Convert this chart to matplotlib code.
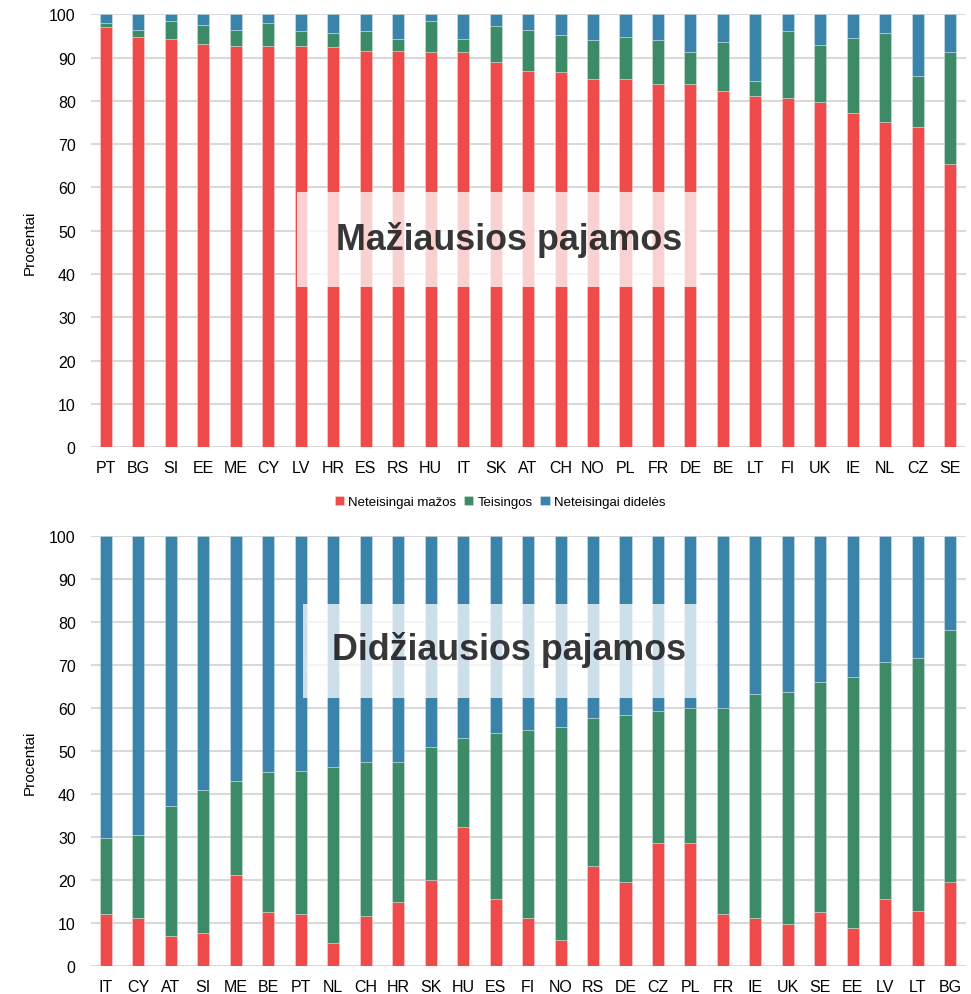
import matplotlib
matplotlib.use("Agg")
import matplotlib.pyplot as plt
import numpy as np

plt.rcParams['font.family'] = ['Liberation Sans', 'DejaVu Sans']

# Mažiausios pajamos (viršutinis grafikas)
salys_maz = ["PT", "BG", "SI", "EE", "ME", "CY", "LV", "HR", "ES", "RS", "HU", "IT", "SK", "AT",
             "CH", "NO", "PL", "FR", "DE", "BE", "LT", "FI", "UK", "IE", "NL", "CZ", "SE"]
maz_mazos = [97.1, 94.8, 94.4, 93.2, 92.7, 92.7, 92.7, 92.4, 91.6, 91.6, 91.2, 91.2, 88.9, 87.0,
             86.6, 85.0, 85.0, 83.8, 83.8, 82.2, 81.1, 80.6, 79.8, 77.1, 75.1, 74.0, 65.4]
maz_teisingos = [0.8, 1.5, 4.0, 4.4, 3.6, 5.2, 3.4, 3.2, 4.5, 2.8, 7.2, 3.2, 8.3, 9.3,
                 8.6, 9.0, 9.8, 10.2, 7.4, 11.4, 3.4, 15.5, 13.0, 17.4, 20.5, 11.7, 25.8]

# Didžiausios pajamos (apatinis grafikas)
salys_did = ["IT", "CY", "AT", "SI", "ME", "BE", "PT", "NL", "CH", "HR", "SK", "HU", "ES", "FI",
             "NO", "RS", "DE", "CZ", "PL", "FR", "IE", "UK", "SE", "EE", "LV", "LT", "BG"]
did_mazos = [12.0, 11.2, 6.9, 7.7, 21.1, 12.5, 12.0, 5.3, 11.6, 14.8, 19.9, 32.2, 15.6, 11.2,
             6.0, 23.2, 19.5, 28.7, 28.7, 12.0, 11.2, 9.7, 12.5, 8.8, 15.6, 12.9, 19.5]
did_teisingos = [17.8, 19.3, 30.4, 33.2, 21.8, 32.5, 33.3, 40.9, 35.7, 32.5, 30.9, 20.9, 38.5, 43.6,
                 49.6, 34.4, 38.8, 30.5, 31.2, 47.9, 51.9, 53.9, 53.4, 58.3, 55.0, 58.6, 58.7]

serijos = ["Neteisingai mažos", "Teisingos", "Neteisingai didelės"]
spalvos = ["#ef4b4b", "#3d8a66", "#3a84ab"]


def piesti(ax, salys, mazos, teisingos, antraste, box, teksto_y):
    x = np.arange(len(salys))
    mazos = np.array(mazos)
    teisingos = np.array(teisingos)
    didel = 100 - mazos - teisingos
    kw = dict(width=0.37, edgecolor=(1, 1, 1, 0.35), linewidth=0.6, zorder=3)
    ax.bar(x, mazos, color=spalvos[0], label=serijos[0], **kw)
    ax.bar(x, teisingos, bottom=mazos, color=spalvos[1], label=serijos[1], **kw)
    ax.bar(x, didel, bottom=mazos + teisingos, color=spalvos[2], label=serijos[2], **kw)
    ax.set_xlim(-0.46, len(salys) - 0.51)
    ax.set_ylim(0, 100)
    ax.set_yticks(range(0, 101, 10))
    ax.set_xticks(x)
    ax.set_xticklabels(salys, fontsize=11.5)
    ax.tick_params(axis='y', length=0, pad=11, labelsize=11.5)
    ax.tick_params(axis='x', length=0, pad=9)
    ax.grid(axis='y', color='#d9d9d9', linewidth=1.5, zorder=0)
    for s in ax.spines.values():
        s.set_visible(False)
    ax.set_ylabel("Procentai", fontsize=11)
    ax.yaxis.set_label_coords(-0.062, 0.475)
    x0, x1, y0, y1 = box
    ax.add_patch(plt.Rectangle((x0, y0), x1 - x0, y1 - y0, facecolor='white',
                               alpha=0.75, edgecolor='none', zorder=4))
    ax.text(12.42, teksto_y, antraste, ha='center', va='baseline',
            fontsize=25.8, fontweight='bold', color='black', alpha=0.78, zorder=5)


fig = plt.figure(figsize=(9.71, 9.95), dpi=100)
ax1 = fig.add_axes([0.0937, 0.5497, 0.9013, 0.4349])
ax2 = fig.add_axes([0.0937, 0.0281, 0.9013, 0.4325])

piesti(ax1, salys_maz, maz_mazos, maz_teisingos, "Mažiausios pajamos",
       (5.88, 18.3, 37.1, 59.0), 45.8)
piesti(ax2, salys_did, did_mazos, did_teisingos, "Didžiausios pajamos",
       (6.07, 18.8, 62.2, 84.1), 71.3)

h, l = ax1.get_legend_handles_labels()
fig.legend(h, l, loc='center', bbox_to_anchor=(0.515, 0.4945), ncol=3, frameon=False,
           fontsize=9.5, handlelength=0.7, handleheight=0.7, handletextpad=0.3, columnspacing=0.6)

fig.savefig("out.png", dpi=100)
